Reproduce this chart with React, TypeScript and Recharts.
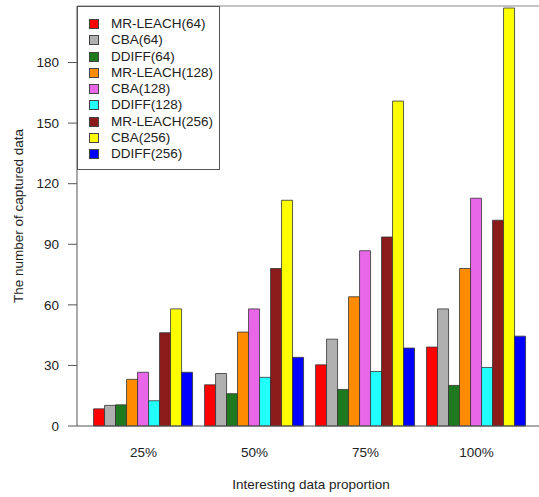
import React from 'react';
import { BarChart, Bar, XAxis, YAxis, ReferenceLine, Label } from 'recharts';

const categories = ['25%', '50%', '75%', '100%'];
const seriesNames = [
  'MR-LEACH(64)', 'CBA(64)', 'DDIFF(64)',
  'MR-LEACH(128)', 'CBA(128)', 'DDIFF(128)',
  'MR-LEACH(256)', 'CBA(256)', 'DDIFF(256)',
];
const seriesColors = [
  '#FF0000', '#B0B0B0', '#1F7A1F',
  '#FF8C00', '#E866E8', '#22FFFF',
  '#8B1A1A', '#FFFF00', '#0000FF',
];
const mrLeach64 = [8.5, 20.4, 30.3, 39.1];
const cba64 = [10.2, 26.0, 43.0, 58.0];
const ddiff64 = [10.5, 16.0, 18.1, 20.1];
const mrLeach128 = [23.1, 46.5, 64.0, 78.0];
const cba128 = [26.6, 58.0, 86.8, 112.8];
const ddiff128 = [12.5, 24.1, 27.0, 29.0];
const mrLeach256 = [46.2, 78.0, 93.6, 101.9];
const cba256 = [58.0, 111.8, 160.9, 207.0];
const ddiff256 = [26.6, 34.0, 38.6, 44.5];
const yTicks = [0, 30, 60, 90, 120, 150, 180];
const yMax = 208;

const seriesValues = [mrLeach64, cba64, ddiff64, mrLeach128, cba128, ddiff128, mrLeach256, cba256, ddiff256];

const data = categories.map((c, i) => {
  const row: Record<string, any> = { cat: c };
  seriesNames.forEach((n, k) => { row[n] = seriesValues[k][i]; });
  return row;
});

const FONT = '"Liberation Sans", Arial, sans-serif';
const FS = 13.5;

export default function App() {
  return (
    <div style={{ position: 'absolute', left: 0, top: 0, width: 539, height: 497, background: '#fff', overflow: 'hidden' }}>
      <BarChart
        width={545}
        height={497}
        data={data}
        margin={{ top: 6, right: 0, bottom: 41, left: 0 }}
        barCategoryGap="5%"
        barGap={0}
      >
        <XAxis
          dataKey="cat"
          axisLine={{ stroke: '#555', strokeWidth: 1 }}
          tickLine={false}
          tickMargin={15}
          height={30}
          padding={{ left: 11, right: 13 }}
          tick={{ fontSize: FS, fill: '#222', fontFamily: FONT }}
        >
          <Label value="Interesting data proportion" position="bottom" offset={23}
            style={{ fontSize: FS, fill: '#222', fontFamily: FONT }} />
        </XAxis>
        <YAxis
          domain={[0, yMax]}
          ticks={yTicks}
          width={77}
          interval={0}
          axisLine={{ stroke: '#555', strokeWidth: 1 }}
          tickLine={{ stroke: '#555', strokeWidth: 1 }}
          tickSize={9}
          tickMargin={9}
          tick={{ fontSize: FS, fill: '#222', fontFamily: FONT }}
        >
          <Label
            content={(props: any) => {
              const vb = props.viewBox;
              const cy = vb.y + vb.height / 2;
              return (
                <text x={18} y={cy} transform={`rotate(-90, 18, ${cy})`} textAnchor="middle"
                  dominantBaseline="central" style={{ fontSize: FS, fill: '#222', fontFamily: FONT }}>
                  The number of captured data
                </text>
              );
            }}
          />
        </YAxis>
        <ReferenceLine y={yMax} stroke="#888" strokeWidth={1} ifOverflow="extendDomain" />
        {seriesNames.map((n, k) => (
          <Bar key={n} dataKey={n} fill={seriesColors[k]} stroke="#333" strokeWidth={0.8} isAnimationActive={false} />
        ))}
      </BarChart>
      <div style={{
        position: 'absolute', left: 77, top: 6, width: 143, height: 164, boxSizing: 'border-box',
        border: '1px solid #555', background: '#fff', paddingTop: 9, fontFamily: FONT, fontSize: FS, color: '#222',
      }}>
        {seriesNames.map((n, k) => (
          <div key={n} style={{ height: 16.25, display: 'flex', alignItems: 'center', position: 'relative' }}>
            <span style={{
              position: 'absolute', left: 11, width: 10, height: 10, boxSizing: 'border-box',
              background: seriesColors[k], border: '1px solid #444',
            }} />
            <span style={{ position: 'absolute', left: 33, whiteSpace: 'nowrap', lineHeight: '16px' }}>{n}</span>
          </div>
        ))}
      </div>
    </div>
  );
}
